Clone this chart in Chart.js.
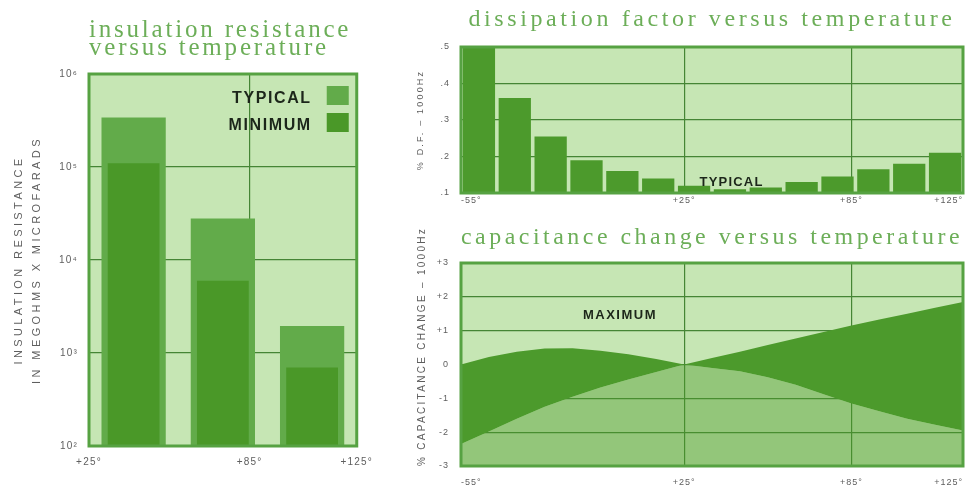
<!DOCTYPE html>
<html>
<head>
<meta charset="utf-8">
<script src="https://cdn.jsdelivr.net/npm/chart.js@4.4.1/dist/chart.umd.min.js"></script>
<style>
html,body{margin:0;padding:0;background:#ffffff;}
body{width:974px;height:488px;position:relative;overflow:hidden;}
.box{position:absolute;}
</style>
</head>
<body>
<div class="box" style="left:0px;top:0px;width:380px;height:488px"><canvas id="cIR"></canvas></div>
<div class="box" style="left:390px;top:0px;width:584px;height:220px"><canvas id="cDF"></canvas></div>
<div class="box" style="left:390px;top:220px;width:584px;height:268px"><canvas id="cCap"></canvas></div>
<script>
// ---------- data ----------
// insulation resistance (megohms x microfarads), log scale
const irCategories = ['+25°', '+85°', '+125°'];
const irTypical = [3.4e5, 2.8e4, 1.95e3];
const irMinimum = [1.1e5, 6.0e3, 700];
const irTickValues = [1e2, 1e3, 1e4, 1e5, 1e6];
const irTickLabels = ['10²', '10³', '10⁴', '10⁵', '10⁶'];
const irTempTicks = [25, 85, 125];
const irTempLabels = ['+25°', '+85°', '+125°'];

// dissipation factor (% D.F. at 1000Hz), 14 temperature steps from -55 to +125
const dfCategories = ['-49', '-36', '-23', '-10', '3', '16', '29', '42', '55', '68', '81', '94', '107', '119'];
const dfTypical = [0.50, 0.36, 0.255, 0.19, 0.16, 0.14, 0.12, 0.11, 0.115, 0.13, 0.145, 0.165, 0.18, 0.21];
const dfTickValues = [0.1, 0.2, 0.3, 0.4, 0.5];
const dfTickLabels = ['.1', '.2', '.3', '.4', '.5'];

// shared temperature axis
const tempTicks = [-55, 25, 85, 125];
const tempLabels = ['-55°', '+25°', '+85°', '+125°'];

// capacitance change (%), maximum envelope
const capTemps = [-55, -45, -35, -25, -15, -5, 5, 15, 25, 35, 45, 55, 65, 75, 85, 95, 105, 115, 125];
const capUpper = [0.0, 0.22, 0.38, 0.47, 0.48, 0.41, 0.30, 0.16, 0.0, 0.19, 0.38, 0.58, 0.77, 0.96, 1.15, 1.33, 1.50, 1.68, 1.85];
const capLower = [-2.35, -1.98, -1.60, -1.25, -0.95, -0.68, -0.44, -0.22, 0.0, -0.10, -0.20, -0.38, -0.60, -0.88, -1.15, -1.38, -1.60, -1.78, -1.95];
const capTickValues = [-3, -2, -1, 0, 1, 2, 3];
const capTickLabels = ['-3', '-2', '-1', '0', '+1', '+2', '+3'];

// ---------- styles ----------
const SANS = "'Liberation Sans', 'DejaVu Sans', Arial, sans-serif";
const SERIF = "'Liberation Serif', 'DejaVu Serif', serif";
const PLOT_BG = '#c6e6b4';
const FRAME = '#56a242';
const GRID = '#458535';
const TITLE_GREEN = '#6cae58';
const TICK_GRAY = '#5e5e5e';
const DARK = '#4c9a2c';

Chart.defaults.font.family = SANS;
Chart.defaults.color = TICK_GRAY;

// ---------- plugins ----------
const plotFrame = {
  id: 'plotFrame',
  beforeDraw(chart, args, o) {
    const {ctx, chartArea: a} = chart;
    ctx.save();
    ctx.fillStyle = o.background;
    ctx.fillRect(a.left, a.top, a.width, a.height);
    ctx.restore();
  },
  afterDatasetsDraw(chart, args, o) {
    const {ctx, chartArea: a} = chart;
    ctx.save();
    ctx.strokeStyle = o.borderColor;
    ctx.lineWidth = o.borderWidth;
    ctx.strokeRect(a.left, a.top, a.width, a.height);
    ctx.restore();
  }
};

const tracking = {
  id: 'tracking',
  beforeDraw(chart, args, o) {
    const wrap = (obj, name, sp) => {
      if (!obj || sp == null || obj['_trk_' + name]) return;
      const orig = obj[name];
      obj[name] = function (...a) {
        const c = this.ctx;
        const prev = c.letterSpacing;
        c.letterSpacing = sp + 'px';
        try { return orig.apply(this, a); } finally { c.letterSpacing = prev || '0px'; }
      };
      obj['_trk_' + name] = true;
    };
    wrap(chart.titleBlock, 'draw', o.title);
    for (const s of Object.values(chart.scales)) {
      wrap(s, 'drawTitle', o.axisTitle);
      wrap(s, 'drawLabels', o.ticks);
    }
  }
};

const notes = {
  id: 'notes',
  afterDatasetsDraw(chart, args, o) {
    const ctx = chart.ctx;
    for (const n of (o.items || [])) {
      const x = chart.scales[n.xAxis].getPixelForValue(n.x);
      const y = chart.scales[n.yAxis].getPixelForValue(n.y);
      ctx.save();
      ctx.font = n.font;
      ctx.fillStyle = n.color;
      ctx.textAlign = 'center';
      ctx.textBaseline = 'middle';
      ctx.letterSpacing = (n.spacing || 0) + 'px';
      ctx.fillText(n.text, x, y);
      ctx.restore();
    }
  }
};

const boxLegend = {
  id: 'boxLegend',
  afterDatasetsDraw(chart, args, o) {
    if (!o.order) return;
    const {ctx, chartArea: a} = chart;
    o.order.forEach((di, k) => {
      const ds = chart.data.datasets[di];
      const cy = a.top + o.firstY + k * o.rowGap;
      const bx = a.right - o.rightInset - o.boxW;
      ctx.save();
      ctx.fillStyle = ds.backgroundColor;
      ctx.fillRect(bx, cy - o.boxH / 2, o.boxW, o.boxH);
      ctx.font = o.font;
      ctx.fillStyle = o.color;
      ctx.textAlign = 'right';
      ctx.textBaseline = 'alphabetic';
      ctx.letterSpacing = o.spacing + 'px';
      ctx.fillText(ds.label, bx - o.gap, cy + o.baselineShift);
      ctx.restore();
    });
  }
};

const innerGrid = (c) => (c.index === 0 || c.index === c.scale.ticks.length - 1) ? 'rgba(0,0,0,0)' : GRID;
const setTicks = (values) => (s) => { s.ticks = values.map(v => ({value: v})); };
const labelFor = (values, labels) => (v) => { const i = values.indexOf(v); return i >= 0 ? labels[i] : ''; };

// ---------- chart 1: insulation resistance ----------
new Chart(document.getElementById('cIR'), {
  type: 'bar',
  data: {
    labels: irCategories,
    datasets: [
      {label: 'MINIMUM', data: irMinimum, backgroundColor: '#4a9828', barPercentage: 0.58, categoryPercentage: 1, grouped: false},
      {label: 'TYPICAL', data: irTypical, backgroundColor: '#62ab4a', barPercentage: 0.72, categoryPercentage: 1, grouped: false}
    ]
  },
  options: {
    responsive: true, maintainAspectRatio: false, animation: false,
    layout: {padding: {left: 0, right: 15, top: 0, bottom: 0}},
    plugins: {
      legend: {display: false},
      tooltip: {enabled: false},
      title: {
        display: true, text: ['insulation resistance', 'versus temperature'],
        align: 'start', fullSize: false, color: TITLE_GREEN,
        font: {family: SERIF, size: 25, weight: 'normal', lineHeight: '18px'},
        padding: {top: 21, bottom: 17}
      },
      plotFrame: {background: PLOT_BG, borderColor: FRAME, borderWidth: 3},
      tracking: {title: 2.8, axisTitle: 3.4, ticks: 1.2},
      boxLegend: {order: [1, 0], firstY: 21.5, rowGap: 27, rightInset: 8, boxW: 22, boxH: 19, gap: 15,
        baselineShift: 7, font: 'bold 16px ' + SANS, color: '#1c261a', spacing: 1.6}
    },
    scales: {
      x: {type: 'category', display: false, offset: true},
      xt: {
        type: 'linear', position: 'bottom', min: 25, max: 125, offset: false,
        afterBuildTicks: setTicks(irTempTicks),
        afterFit: (s) => { s.height = 42; },
        ticks: {callback: labelFor(irTempTicks, irTempLabels), padding: 10, font: {size: 10}, color: TICK_GRAY, maxRotation: 0, autoSkip: false},
        grid: {color: innerGrid, lineWidth: 1.2, drawTicks: false, offset: false},
        border: {display: false}
      },
      y: {
        type: 'logarithmic', min: 1e2, max: 1e6,
        afterBuildTicks: setTicks(irTickValues),
        afterFit: (s) => { s.width = 89; },
        ticks: {callback: labelFor(irTickValues, irTickLabels), padding: 11, font: {size: 10}, color: TICK_GRAY, autoSkip: false},
        grid: {color: innerGrid, lineWidth: 1.2, drawTicks: false},
        border: {display: false},
        title: {display: true, text: ['INSULATION RESISTANCE', 'IN MEGOHMS X MICROFARADS'], color: TICK_GRAY,
          font: {size: 11, lineHeight: '18px'}, padding: {top: 10, bottom: 0}}
      }
    }
  },
  plugins: [plotFrame, tracking, boxLegend]
});

// ---------- chart 2: dissipation factor ----------
new Chart(document.getElementById('cDF'), {
  type: 'bar',
  data: {
    labels: dfCategories,
    datasets: [{label: 'TYPICAL', data: dfTypical, backgroundColor: DARK, barPercentage: 0.9, categoryPercentage: 1}]
  },
  options: {
    responsive: true, maintainAspectRatio: false, animation: false,
    layout: {padding: {left: 0, right: 11, top: 0, bottom: 0}},
    plugins: {
      legend: {display: false},
      tooltip: {enabled: false},
      title: {
        display: true, text: 'dissipation factor versus temperature',
        align: 'center', fullSize: false, color: TITLE_GREEN,
        font: {family: SERIF, size: 24, weight: 'normal', lineHeight: '20px'},
        padding: {top: 10, bottom: 17}
      },
      plotFrame: {background: PLOT_BG, borderColor: FRAME, borderWidth: 3},
      tracking: {title: 3.6, axisTitle: 2.2, ticks: 1},
      notes: {items: [{text: 'TYPICAL', xAxis: 'xt', yAxis: 'y', x: 42, y: 0.13, font: 'bold 13px ' + SANS, color: '#1c261a', spacing: 1.2}]}
    },
    scales: {
      x: {type: 'category', display: false, offset: true},
      xt: {
        type: 'linear', position: 'bottom', min: -55, max: 125, offset: false,
        afterBuildTicks: setTicks(tempTicks),
        afterFit: (s) => { s.height = 27; },
        ticks: {callback: labelFor(tempTicks, tempLabels), align: 'inner', padding: 2, font: {size: 9}, color: TICK_GRAY, maxRotation: 0, autoSkip: false},
        grid: {color: innerGrid, lineWidth: 1.2, drawTicks: false, offset: false},
        border: {display: false}
      },
      y: {
        type: 'linear', min: 0.1, max: 0.5,
        afterBuildTicks: setTicks(dfTickValues),
        afterFit: (s) => { s.width = 71; },
        ticks: {callback: labelFor(dfTickValues, dfTickLabels), padding: 11, font: {size: 9}, color: TICK_GRAY, autoSkip: false},
        grid: {color: innerGrid, lineWidth: 1.2, drawTicks: false},
        border: {display: false},
        title: {display: true, text: '% D.F. – 1000Hz', color: TICK_GRAY, font: {size: 9}, padding: {top: 25, bottom: 0}}
      }
    }
  },
  plugins: [plotFrame, tracking, notes]
});

// ---------- chart 3: capacitance change ----------
new Chart(document.getElementById('cCap'), {
  type: 'line',
  data: {
    datasets: [
      {label: 'MAXIMUM +', data: capTemps.map((t, i) => ({x: t, y: capUpper[i]})), fill: '+1',
        backgroundColor: DARK, borderWidth: 0, pointRadius: 0, tension: 0},
      {label: 'MAXIMUM -', data: capTemps.map((t, i) => ({x: t, y: capLower[i]})), fill: 'start',
        backgroundColor: 'rgba(76,156,44,0.42)', borderWidth: 0, pointRadius: 0, tension: 0}
    ]
  },
  options: {
    responsive: true, maintainAspectRatio: false, animation: false,
    layout: {padding: {left: 0, right: 11, top: 0, bottom: 0}},
    plugins: {
      legend: {display: false},
      tooltip: {enabled: false},
      title: {
        display: true, text: 'capacitance change versus temperature',
        align: 'center', fullSize: false, color: TITLE_GREEN,
        font: {family: SERIF, size: 24, weight: 'normal', lineHeight: '20px'},
        padding: {top: 8, bottom: 15}
      },
      plotFrame: {background: PLOT_BG, borderColor: FRAME, borderWidth: 3},
      tracking: {title: 3.5, axisTitle: 2.3, ticks: 1},
      notes: {items: [{text: 'MAXIMUM', xAxis: 'x', yAxis: 'y', x: 2, y: 1.45, font: 'bold 13px ' + SANS, color: '#1c261a', spacing: 1.5}]}
    },
    scales: {
      x: {
        type: 'linear', position: 'bottom', min: -55, max: 125,
        afterBuildTicks: setTicks(tempTicks),
        afterFit: (s) => { s.height = 22; },
        ticks: {callback: labelFor(tempTicks, tempLabels), align: 'inner', padding: 11, font: {size: 9}, color: TICK_GRAY, maxRotation: 0, autoSkip: false},
        grid: {color: innerGrid, lineWidth: 1.2, drawTicks: false},
        border: {display: false}
      },
      y: {
        type: 'linear', min: -3, max: 3,
        afterBuildTicks: setTicks(capTickValues),
        afterFit: (s) => { s.width = 71; },
        ticks: {callback: labelFor(capTickValues, capTickLabels), padding: 12, font: {size: 9}, color: TICK_GRAY, autoSkip: false},
        grid: {color: innerGrid, lineWidth: 1.2, drawTicks: false},
        border: {display: false},
        title: {display: true, text: '% CAPACITANCE CHANGE – 1000Hz', align: 'start', color: TICK_GRAY, font: {size: 10}, padding: {top: 26, bottom: 0}}
      }
    }
  },
  plugins: [plotFrame, tracking, notes]
});
</script>
</body>
</html>
